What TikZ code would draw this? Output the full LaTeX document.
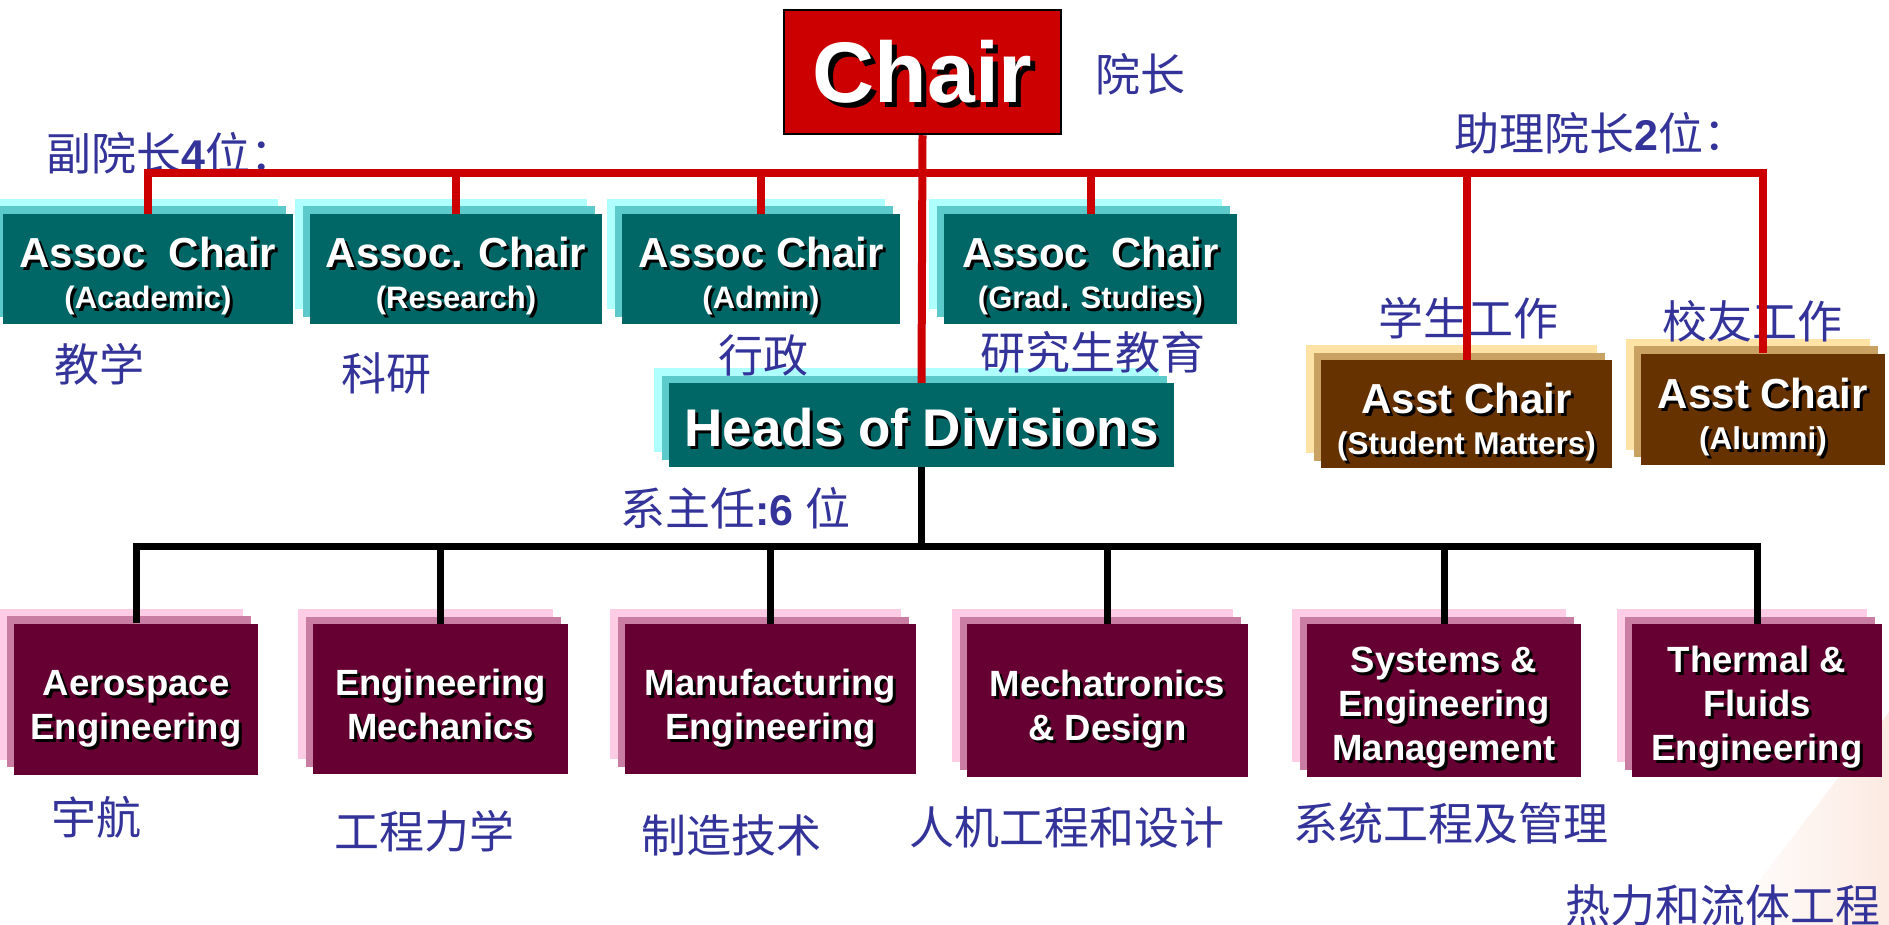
\documentclass[tikz,border=0pt]{standalone}
\usepackage{fontspec}
\setmainfont{Liberation Sans}
\newfontfamily\cjk{Noto Sans CJK SC}
\usetikzlibrary{shadows}
\definecolor{chairred}{HTML}{CC0000}
\definecolor{tealF}{HTML}{006666}
\definecolor{tealM}{HTML}{5CCACA}
\definecolor{tealL}{HTML}{B0FFFF}
\definecolor{brownF}{HTML}{663300}
\definecolor{brownM}{HTML}{C9A263}
\definecolor{brownL}{HTML}{FFE3A6}
\definecolor{maroonF}{HTML}{660033}
\definecolor{maroonM}{HTML}{C97DA3}
\definecolor{maroonL}{HTML}{FFCCE5}
\definecolor{cnblue}{HTML}{333399}
\definecolor{peach}{HTML}{FCEAE2}
\newcommand\sh[2][3pt]{\leavevmode\rlap{\kern#1\raisebox{-#1}{\color{black}#2}}#2}
\newcommand\tealtext[2]{{\fontsize{42pt}{40pt}\selectfont\sh{#1}}\rule[-10pt]{0pt}{58pt}\\\sh{#2}\rule[-10pt]{0pt}{40pt}}
\newcommand\assttext[2]{{\fontsize{42pt}{41pt}\selectfont\sh{#1}}\rule[-7pt]{0pt}{57pt}\\\sh{#2}\rule[-7pt]{0pt}{41pt}}
\newcommand\dtwo[2]{\sh{#1}\rule[-14pt]{0pt}{64pt}\\\sh{#2}\rule[-14pt]{0pt}{44pt}}
\newcommand\dthree[3]{\sh{#1}\rule[-14pt]{0pt}{59pt}\\\sh{#2}\rule[-14pt]{0pt}{44pt}\\\sh{#3}\rule[-14pt]{0pt}{44pt}}
\tikzset{
  orgbox/.style={inner sep=0pt, text=white, align=center},
  tealbox/.style={orgbox, fill=tealF,
    general shadow={fill=tealL, shadow xshift=-15pt, shadow yshift=15pt},
    general shadow={fill=tealM, shadow xshift=-7.5pt, shadow yshift=7.5pt}},
  brownbox/.style={orgbox, fill=brownF,
    general shadow={fill=brownL, shadow xshift=-15pt, shadow yshift=15pt},
    general shadow={fill=brownM, shadow xshift=-7.5pt, shadow yshift=7.5pt}},
  maroonbox/.style={orgbox, fill=maroonF,
    general shadow={fill=maroonL, shadow xshift=-15pt, shadow yshift=15pt},
    general shadow={fill=maroonM, shadow xshift=-7.5pt, shadow yshift=7.5pt}},
  assoc/.style={tealbox, minimum height=110pt, font=\bfseries\fontsize{31pt}{40pt}\selectfont},
  asst/.style={brownbox, font=\bfseries\fontsize{31.5pt}{41pt}\selectfont},
  dept/.style={maroonbox, font=\bfseries\fontsize{36.5pt}{44pt}\selectfont},
  cnlabel/.style={font=\cjk\fontsize{45pt}{45pt}\selectfont, text=cnblue, inner sep=0pt, anchor=west},
  redline/.style={draw=chairred, line width=8pt},
  blackline/.style={draw=black, line width=7pt},
}
\begin{document}
\begin{tikzpicture}[x=1pt,y=-1pt]
\useasboundingbox (0,0) rectangle (1889,925);
\fill[white] (0,0) rectangle (1889,925);
\shade[left color=white, right color=peach] (1725,925) -- (1889,712) -- (1889,925) -- cycle;

% top
\node[orgbox, fill=chairred, draw=black, line width=2.5pt, minimum width=277pt, minimum height=124pt,
  font=\bfseries\fontsize{86pt}{86pt}\selectfont, text height=66pt] (chair) at (922.5,72) {\sh[5pt]{Chair}};

% associate chairs
\node[assoc, minimum width=290pt] (ac1) at (148,269) {\tealtext{Assoc\ \ Chair}{(Academic)}};
\node[assoc, minimum width=292pt] (ac2) at (456,269) {\tealtext{Assoc. Chair}{(Research)}};
\node[assoc, minimum width=278pt] (ac3) at (761,269) {\tealtext{Assoc Chair}{(Admin)}};
\node[assoc, minimum width=293pt] (ac4) at (1090.5,269) {\tealtext{Assoc\ \ Chair}{(Grad. Studies)}};

% assistant chairs
\node[asst, minimum width=291pt, minimum height=108pt] (ast1) at (1466.5,414) {\assttext{Asst Chair}{(Student Matters)}};
\node[asst, minimum width=244pt, minimum height=111pt] (ast2) at (1763,409) {\assttext{Asst Chair}{(Alumni)}};

% heads
\node[tealbox, minimum width=505pt, minimum height=84pt, font=\bfseries\fontsize{53pt}{53pt}\selectfont, text height=46pt]
  (heads) at (921.5,425) {\sh{Heads of Divisions}};

% departments
\node[dept, minimum width=244pt, minimum height=151pt] (d1) at (136,699) {\dtwo{Aerospace}{Engineering}};
\node[dept, minimum width=255pt, minimum height=150pt] (d2) at (440.5,699) {\dtwo{Engineering}{Mechanics}};
\node[dept, minimum width=291pt, minimum height=150pt] (d3) at (770.5,699) {\dtwo{Manufacturing}{Engineering}};
\node[dept, minimum width=281pt, minimum height=153pt] (d4) at (1107.5,700.5) {\dtwo{Mechatronics}{\& Design}};
\node[dept, minimum width=274pt, minimum height=153pt] (d5) at (1444,700.5) {\dthree{Systems \&}{Engineering}{Management}};
\node[dept, minimum width=250pt, minimum height=153pt] (d6) at (1757,700.5) {\dthree{Thermal \&}{Fluids}{Engineering}};

% Chinese labels
\node[cnlabel] (lyz) at (1095,74) {院长};
\node[cnlabel] (lfy) at (46,153) {副院长{\rmfamily\bfseries\fontsize{43pt}{45pt}\selectfont 4}位：};
\node[cnlabel] (lzl) at (1454,133) {助理院长{\rmfamily\bfseries\fontsize{43pt}{45pt}\selectfont 2}位：};
\node[cnlabel] (ljx) at (54,364) {教学};
\node[cnlabel] (lky) at (341,373) {科研};
\node[cnlabel] (lxz) at (718,355) {行政};
\node[cnlabel] (lyj) at (980,352) {研究生教育};
\node[cnlabel] (lxs) at (1378,318) {学生工作};
\node[cnlabel] (lxy) at (1662,321) {校友工作};
\node[cnlabel] (lxzr) at (620,508) {系主任{\rmfamily\bfseries\fontsize{43pt}{45pt}\selectfont :6 }位};
\node[cnlabel] (lyh) at (51,817) {宇航};
\node[cnlabel] (lgc) at (334,831) {工程力学};
\node[cnlabel] (lzz) at (641,835) {制造技术};
\node[cnlabel] (lrj) at (909,827) {人机工程和设计};
\node[cnlabel] (lxt) at (1293,823) {系统工程及管理};
\node[cnlabel] (lrl) at (1565,905) {热力和流体工程};

% red connectors
\coordinate (rbus) at (0,173.5);
\draw[redline] (chair.south) -- (heads.north);
\draw[redline] (ac1.north) |- (ast2.north |- rbus) -- (ast2.north);
\draw[redline] (ac2.north) -- (ac2.north |- rbus);
\draw[redline] (ac3.north) -- (ac3.north |- rbus);
\draw[redline] (ac4.north) -- (ac4.north |- rbus);
\draw[redline] (ast1.north) -- (ast1.north |- rbus);

% black connectors
\coordinate (bbus) at (0,546);
\draw[blackline] (heads.south) -- (heads.south |- bbus);
\draw[blackline] (d1.north) |- (d6.north |- bbus) -- (d6.north);
\draw[blackline] (d2.north) -- (d2.north |- bbus);
\draw[blackline] (d3.north) -- (d3.north |- bbus);
\draw[blackline] (d4.north) -- (d4.north |- bbus);
\draw[blackline] (d5.north) -- (d5.north |- bbus);
\end{tikzpicture}
\end{document}
